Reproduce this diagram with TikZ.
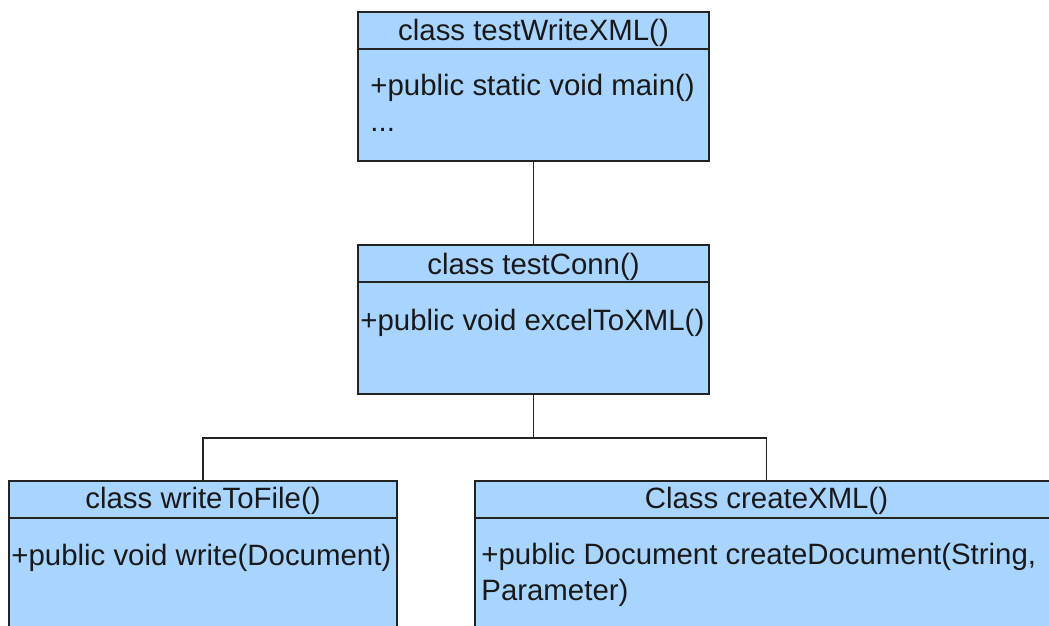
\documentclass[tikz,border=0pt]{standalone}
\usepackage{fontspec}
\setmainfont{Liberation Sans}
\definecolor{umlfill}{RGB}{168,213,255}
\definecolor{umlline}{RGB}{35,35,35}
\begin{document}
\begin{tikzpicture}[x=0.5pt,y=-0.5pt,
  classbox/.style={draw=umlline, fill=umlfill, line width=0.8pt, inner sep=0pt, outer sep=0pt},
  headline/.style={draw=umlline, line width=0.8pt},
  title/.style={font=\fontsize{14.7}{17}\selectfont, inner sep=0pt, anchor=base, text=black!90},
  member/.style={font=\fontsize{14.7}{18}\selectfont, inner sep=0pt, anchor=base west, align=left, text=black!90},
  link/.style={draw=umlline, line width=0.8pt}]
\useasboundingbox (0,0) rectangle (1049,626);
% boxes
\node[classbox, minimum width=175.5pt, minimum height=74.5pt] (main) at (533.5,86.5) {};
\node[classbox, minimum width=175.5pt, minimum height=74.5pt] (conn) at (533.5,319.5) {};
\node[classbox, minimum width=194pt, minimum height=80pt] (write) at (203,561) {};
\node[classbox, minimum width=291.5pt, minimum height=80pt] (create) at (766.5,561) {};
% header separators
\foreach \b in {main,conn,write,create}
  \draw[headline] ([yshift=-18.5pt]\b.north west) -- ([yshift=-18.5pt]\b.north east);
% titles
\node[title] (mainT) at (533.5,41) {class testWriteXML()};
\node[title] (connT) at (533.5,274) {class testConn()};
\node[title] (writeT) at (203,508) {class writeToFile()};
\node[title] (createT) at (766.5,508) {Class createXML()};
% members (base anchor = baseline of last line)
\node[member] (mainM) at (370,132) {+public static void main()\\...};
\node[member] (connM) at (360,330) {+public void excelToXML()};
\node[member] (writeM) at (11,565) {+public void write(Document)};
\node[member] (createM) at (481,600) {+public Document createDocument(String,\\Parameter)};
% connectors
\coordinate (split) at (533.5,438);
\draw[link] (main.south) -- (conn.north);
\draw[link] (conn.south) -- (split) -| (write.north);
\draw[link] (split) -| (create.north);
\end{tikzpicture}
\end{document}
